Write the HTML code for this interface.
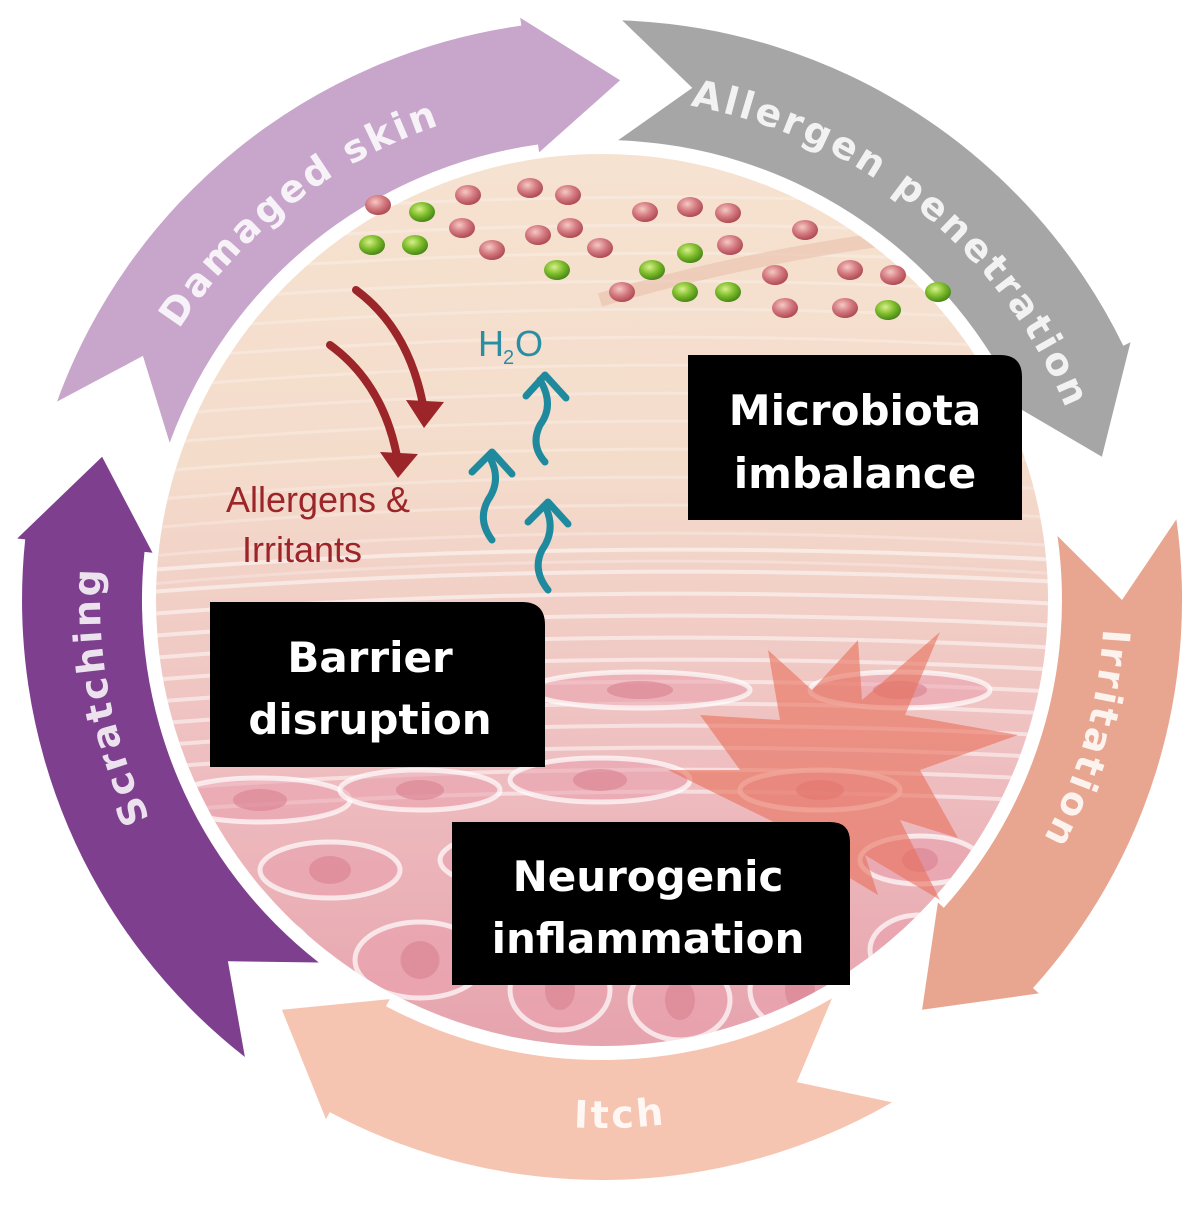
<!DOCTYPE html>
<html><head><meta charset="utf-8">
<style>
html,body{margin:0;padding:0;background:#fff;}
svg{display:block;}
</style></head>
<body>
<svg id="s" width="1200" height="1205" viewBox="0 0 1200 1205" xmlns="http://www.w3.org/2000/svg">
<defs>
<clipPath id="cc"><circle cx="602" cy="600" r="446"/></clipPath>
<linearGradient id="sk" x1="0" y1="0" x2="0" y2="1">
<stop offset="0" stop-color="#f6e2d0"/>
<stop offset="0.35" stop-color="#f4dccb"/>
<stop offset="0.5" stop-color="#f1cfc6"/>
<stop offset="0.7" stop-color="#eebcbf"/>
<stop offset="1" stop-color="#e6a3ad"/>
</linearGradient>
<radialGradient id="pd" cx="0.4" cy="0.35" r="0.7">
<stop offset="0" stop-color="#f5c9c4"/><stop offset="0.5" stop-color="#d47a80"/><stop offset="1" stop-color="#a9444f"/>
</radialGradient>
<radialGradient id="gd" cx="0.4" cy="0.35" r="0.7">
<stop offset="0" stop-color="#d7f08a"/><stop offset="0.5" stop-color="#7fbd2c"/><stop offset="1" stop-color="#3f7f14"/>
</radialGradient>
</defs>
<g id="ring"></g>
<g clip-path="url(#cc)">
<rect x="150" y="150" width="910" height="900" fill="url(#sk)"/>
<g id="tex" fill="none"></g>
</g>
<g id="dots"></g>
<g fill="none" stroke="#9b2528" stroke-width="8" stroke-linecap="round">
<path d="M356 290 Q410 330 424 410"/>
<path d="M330 345 Q385 385 398 462"/>
</g>
<g fill="#9b2528">
<path d="M406 400 L444 402 L424 428 Z"/>
<path d="M380 452 L418 454 L398 478 Z"/>
</g>
<text x="318" y="512" font-family="Liberation Sans, sans-serif" font-size="36" fill="#9b2528" text-anchor="middle">Allergens &amp;</text>
<text x="302" y="562" font-family="Liberation Sans, sans-serif" font-size="36" fill="#9b2528" text-anchor="middle">Irritants</text>
<text x="478" y="356" font-family="Liberation Sans, sans-serif" font-size="36" fill="#2a8ea3">H</text>
<text x="503" y="364" font-family="Liberation Sans, sans-serif" font-size="20" fill="#2a8ea3">2</text>
<text x="515" y="356" font-family="Liberation Sans, sans-serif" font-size="36" fill="#2a8ea3">O</text>
<g fill="none" stroke="#1f8a9e" stroke-width="7" stroke-linecap="round" stroke-linejoin="round">
<path d="M545 462 Q530 445 540 425 Q555 405 540 380"/>
<path d="M526 396 L545 375 L566 398"/>
<path d="M492 540 Q477 520 488 500 Q502 480 490 458"/>
<path d="M472 472 L492 452 L512 474"/>
<path d="M548 590 Q532 570 542 550 Q556 530 546 508"/>
<path d="M528 522 L548 502 L568 524"/>
</g>
<polygon points="768,650 812,690 858,640 862,700 940,632 905,715 1018,735 920,770 958,838 900,820 940,900 865,855 878,895 820,860 760,880 790,830 668,770 740,770 700,715 780,720" fill="#e8705a" opacity="0.6"/>
<g font-family="'DejaVu Sans', 'Liberation Sans', sans-serif" font-weight="bold" font-size="42" fill="#fff" text-anchor="middle">
<path d="M688 355 H1000 Q1022 355 1022 377 V520 H688 Z" fill="#000"/>
<text x="855" y="425">Microbiota</text>
<text x="855" y="488">imbalance</text>
<path d="M210 602 H522 Q545 602 545 625 V767 H210 Z" fill="#000"/>
<text x="370" y="672">Barrier</text>
<text x="370" y="734">disruption</text>
<path d="M452 822 H830 Q850 822 850 842 V985 H452 Z" fill="#000"/>
<text x="648" y="891">Neurogenic</text>
<text x="648" y="953">inflammation</text>
</g>
<g id="labels" font-family="'DejaVu Sans', 'Liberation Sans', sans-serif" font-weight="bold" font-size="38" fill="#fff" fill-opacity="0.85" letter-spacing="3"></g>
</svg>
<script>
(function(){
var NS="http://www.w3.org/2000/svg",cx=602,cy=600;
function P(r,a){a=a*Math.PI/180;return (cx+r*Math.cos(a)).toFixed(1)+" "+(cy+r*Math.sin(a)).toFixed(1);}
var R1=460,R2=580,RM=(R1+R2)/2,d=8;
var segs=[[200,262,"#c8a6cc"],[272,334,"#a6a6a6"],[352,402,"#e8a690"],[60,118,"#f6c5b2"],[128,186,"#7e3f8f"]];
var ring=document.getElementById("ring");
segs.forEach(function(s){
var a0=s[0],a1=s[1];
var dp="M "+P(R2,a0)+" A "+R2+" "+R2+" 0 0 1 "+P(R2,a1)+" L "+P(R2+8,a1)+" L "+P(RM,a1+10)+" L "+P(R1-8,a1)+" L "+P(R1,a1)+" A "+R1+" "+R1+" 0 0 0 "+P(R1,a0)+" L "+P(RM,a0+d)+" Z";
var p=document.createElementNS(NS,"path");p.setAttribute("d",dp);p.setAttribute("fill",s[2]);ring.appendChild(p);
});
var defs=document.querySelector("defs"),lab=document.getElementById("labels");
function arcText(id,r,a0,a1,cw,txt){
var p=document.createElementNS(NS,"path");p.setAttribute("id",id);
p.setAttribute("d","M "+P(r,a0)+" A "+r+" "+r+" 0 0 "+(cw?1:0)+" "+P(r,a1));defs.appendChild(p);
var t=document.createElementNS(NS,"text");var tp=document.createElementNS(NS,"textPath");
tp.setAttribute("href","#"+id);tp.setAttribute("startOffset","50%");tp.setAttribute("text-anchor","middle");tp.textContent=txt;t.appendChild(tp);lab.appendChild(t);
}
arcText("t1",502,197,267,1,"Damaged skin");
arcText("t2",502,272,346,1,"Allergen penetration");
arcText("t3",502,352,400,1,"Irritation");
arcText("t4",528,128,48,0,"Itch");
arcText("t5",502,138,200,1,"Scratching");
var tex=document.getElementById("tex");
function el(tag,attrs){var e=document.createElementNS(NS,tag);for(var k in attrs)e.setAttribute(k,attrs[k]);tex.appendChild(e);return e;}
for(var i=0;i<14;i++){var y=200+i*28;el("path",{d:"M150 "+(y+20)+" Q600 "+(y-20)+" 1060 "+(y+10),stroke:"#fff",'stroke-opacity':0.25,'stroke-width':3});}
for(var i=0;i<12;i++){var y=560+i*22;el("path",{d:"M150 "+(y+10)+" Q600 "+(y-25)+" 1060 "+y,stroke:"#fff",'stroke-opacity':0.5,'stroke-width':4});}
var cells=[[260,800,90,22],[420,790,80,20],[600,780,90,22],[820,790,80,20],[330,870,70,28],[520,860,80,28],[720,870,70,26],[920,860,60,24],[250,950,60,35],[420,960,65,38],[560,990,50,40],[680,1000,50,40],[800,990,50,40],[920,950,50,35],[330,700,90,18],[640,690,110,18],[900,690,90,18]];
cells.forEach(function(c){el("ellipse",{cx:c[0],cy:c[1],rx:c[2],ry:c[3],fill:"#e9a0ad",'fill-opacity':0.55,stroke:"#fff",'stroke-width':5,'stroke-opacity':0.7});
el("ellipse",{cx:c[0],cy:c[1],rx:c[2]*0.3,ry:c[3]*0.5,fill:"#d9818f",'fill-opacity':0.6});});
el("path",{d:"M600 300 Q800 240 1060 220",stroke:"#e9bfae",'stroke-width':14,'stroke-opacity':0.6});
var dots=document.getElementById("dots");
var pk=[[378,205],[468,195],[530,188],[568,195],[462,228],[492,250],[538,235],[570,228],[600,248],[645,212],[690,207],[728,213],[730,245],[805,230],[775,275],[850,270],[893,275],[622,292],[785,308],[845,308]];
var gr=[[422,212],[372,245],[415,245],[557,270],[652,270],[690,253],[685,292],[728,292],[888,310],[938,292]];
function dot(c,f){var e=document.createElementNS(NS,"ellipse");e.setAttribute("cx",c[0]);e.setAttribute("cy",c[1]);e.setAttribute("rx",13);e.setAttribute("ry",10);e.setAttribute("fill",f);dots.appendChild(e);}
pk.forEach(function(c){dot(c,"url(#pd)");});gr.forEach(function(c){dot(c,"url(#gd)");});
})();
</script>
</body></html>
